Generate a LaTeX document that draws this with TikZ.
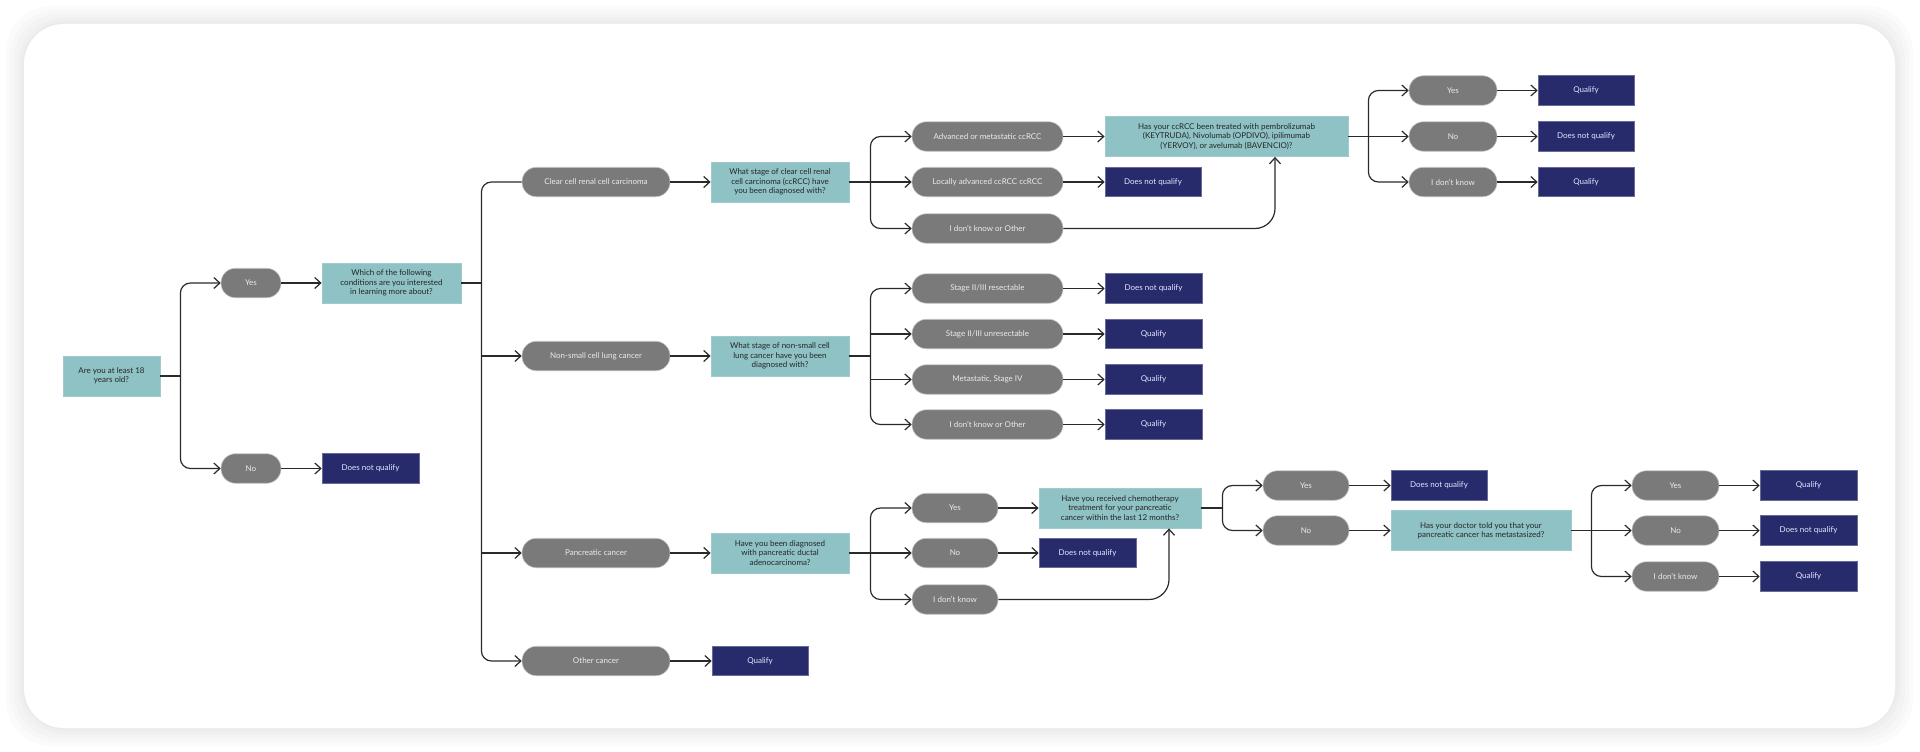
\documentclass[tikz,border=0pt]{standalone}
\usepackage{fontspec}
\setmainfont{Lato}
\usetikzlibrary{positioning,arrows.meta,calc}
\definecolor{qteal}{HTML}{8EC2C5}
\definecolor{pgray}{HTML}{7A7A7A}
\definecolor{rnavy}{HTML}{272A6B}
\definecolor{linec}{HTML}{2A2A2A}
\tikzset{
  boxtxt/.style={inner sep=0pt,font=\fontsize{8}{9.3}\selectfont,align=center},
  ques/.style={boxtxt,fill=qteal,draw=qteal!85!white,line width=0.8pt,minimum height=40pt,text=black!85},
  pill/.style={boxtxt,fill=pgray,draw=black!22,line width=0.6pt,rounded corners=14.5pt,minimum height=29.5pt,text=white!92!black},
  res/.style={boxtxt,fill=rnavy,draw=rnavy!70!white,line width=0.6pt,minimum height=29.5pt,text=white!90!blue},
  wire/.style={draw=linec,line width=1.2pt,rounded corners=10pt},
  wirea/.style={wire,-{Straight Barb[length=6pt,width=11pt]}}
}
\begin{document}
\begin{tikzpicture}[x=1pt,y=-1pt]
\useasboundingbox (0,0) rectangle (1920,752);
\foreach \s in {18,14,10,6,3} \fill[black,opacity=0.014,rounded corners=46pt] (24-\s,24-\s) rectangle (1895+\s,728+\s);
\fill[white,rounded corners=40pt] (24,24) rectangle (1895,728);

\node[ques,minimum width=97pt] (age) at (111.5,376) {Are you at least 18\\years old?};
\node[pill,minimum width=60pt] (yes1) at (251,283) {Yes};
\node[pill,minimum width=60pt] (no1) at (251,468.5) {No};
\node[ques,minimum width=139pt] (which) at (391.5,283) {Which of the following\\conditions are you interested\\in learning more about?};
\node[res,minimum width=97pt] (dnqa) at (370.5,468.5) {Does not qualify};

\node[pill,minimum width=148pt] (ccrcc) at (596,182) {Clear cell renal cell carcinoma};
\node[pill,minimum width=148pt] (nsclc) at (596,356) {Non-small cell lung cancer};
\node[pill,minimum width=148pt] (panc) at (596,553) {Pancreatic cancer};
\node[pill,minimum width=148pt] (other) at (596,661) {Other cancer};
\node[ques,minimum width=138pt] (qcc) at (780,182) {What stage of clear cell renal\\cell carcinoma (ccRCC) have\\you been diagnosed with?};
\node[ques,minimum width=138pt] (qns) at (780,356) {What stage of non-small cell\\lung cancer have you been\\diagnosed with?};
\node[ques,minimum width=138pt] (qpa) at (780,553) {Have you been diagnosed\\with pancreatic ductal\\adenocarcinoma?};
\node[res,minimum width=96pt] (qoth) at (760,661) {Qualify};

\node[pill,minimum width=151pt] (cc1) at (987.5,136.5) {Advanced or metastatic ccRCC};
\node[pill,minimum width=151pt] (cc2) at (987.5,182) {Locally advanced ccRCC ccRCC};
\node[pill,minimum width=151pt] (cc3) at (987.5,228.5) {I don’t know or Other};
\node[ques,minimum width=243pt] (treat) at (1226.5,136.5) {Has your ccRCC been treated with pembrolizumab\\(KEYTRUDA), Nivolumab (OPDIVO), ipilimumab\\(YERVOY), or avelumab (BAVENCIO)?};
\node[res,minimum width=96pt] (cc2r) at (1153,182) {Does not qualify};
\node[pill,minimum width=88pt] (tr1) at (1453,90.5) {Yes};
\node[pill,minimum width=88pt] (tr2) at (1453,136.5) {No};
\node[pill,minimum width=88pt] (tr3) at (1453,182) {I don’t know};
\node[res,minimum width=96pt] (tr1r) at (1586,90.5) {Qualify};
\node[res,minimum width=96pt] (tr2r) at (1586,136.5) {Does not qualify};
\node[res,minimum width=96pt] (tr3r) at (1586,182) {Qualify};

\node[pill,minimum width=151pt] (ns1) at (987.5,288.5) {Stage II/III resectable};
\node[pill,minimum width=151pt] (ns2) at (987.5,334) {Stage II/III unresectable};
\node[pill,minimum width=151pt] (ns3) at (987.5,379.5) {Metastatic, Stage IV};
\node[pill,minimum width=151pt] (ns4) at (987.5,424.5) {I don’t know or Other};
\node[res,minimum width=97pt] (ns1r) at (1153.5,288.5) {Does not qualify};
\node[res,minimum width=97pt] (ns2r) at (1153.5,334) {Qualify};
\node[res,minimum width=97pt] (ns3r) at (1153.5,379.5) {Qualify};
\node[res,minimum width=97pt] (ns4r) at (1153.5,424.5) {Qualify};

\node[pill,minimum width=86pt] (pa1) at (955,508) {Yes};
\node[pill,minimum width=86pt] (pa2) at (955,553) {No};
\node[pill,minimum width=86pt] (pa3) at (955,599.5) {I don’t know};
\node[ques,minimum width=162pt] (chemo) at (1120,508) {Have you received chemotherapy\\treatment for your pancreatic\\cancer within the last 12 months?};
\node[res,minimum width=97pt] (pa2r) at (1087.5,553) {Does not qualify};
\node[pill,minimum width=86pt] (ch1) at (1306,485.5) {Yes};
\node[pill,minimum width=86pt] (ch2) at (1306,530.5) {No};
\node[res,minimum width=96pt] (ch1r) at (1439,485.5) {Does not qualify};
\node[ques,minimum width=180pt] (doctor) at (1481,530.5) {Has your doctor told you that your\\pancreatic cancer has metastasized?};
\node[pill,minimum width=87pt] (dr1) at (1675.5,485.5) {Yes};
\node[pill,minimum width=87pt] (dr2) at (1675.5,530.5) {No};
\node[pill,minimum width=87pt] (dr3) at (1675.5,576.5) {I don’t know};
\node[res,minimum width=97pt] (dr1r) at (1808.5,485.5) {Qualify};
\node[res,minimum width=97pt] (dr2r) at (1808.5,530.5) {Does not qualify};
\node[res,minimum width=97pt] (dr3r) at (1808.5,576.5) {Qualify};

\coordinate[right=20pt of age] (jage);\coordinate[right=20pt of which] (jwhich);
\coordinate[right=21pt of qcc] (jqcc);\coordinate[right=21pt of qns] (jqns);\coordinate[right=21pt of qpa] (jqpa);
\coordinate[right=20pt of treat] (jtreat);\coordinate[right=21pt of chemo] (jchemo);\coordinate[right=20pt of doctor] (jdoctor);

\draw[wire] (age.east)--(jage);\draw[wirea] (jage)|-(yes1);\draw[wirea] (jage)|-(no1);
\draw[wirea] (yes1)--(which);\draw[wirea] (no1)--(dnqa);
\draw[wire] (which.east)--(jwhich);\draw[wire] (jwhich)|-(ccrcc);\draw[wirea] (jwhich)|-(other);
\draw[wirea] (jwhich|-nsclc)--(nsclc);\draw[wirea] (jwhich|-panc)--(panc);
\draw[wirea] (ccrcc)--(qcc);\draw[wirea] (nsclc)--(qns);\draw[wirea] (panc)--(qpa);\draw[wirea] (other)--(qoth);

\draw[wire] (qcc.east)--(jqcc);\draw[wirea] (jqcc)|-(cc1);\draw[wirea] (jqcc)--(cc2);\draw[wirea] (jqcc)|-(cc3);
\draw[wirea] (cc1)--(treat);\draw[wirea] (cc2)--(cc2r);
\draw[wirea,rounded corners=20pt] (cc3.east)-|($(treat.south)+(48.5,0)$);
\draw[wire] (treat.east)--(jtreat);\draw[wirea] (jtreat)|-(tr1);\draw[wirea] (jtreat)--(tr2);\draw[wirea] (jtreat)|-(tr3);
\draw[wirea] (tr1)--(tr1r);\draw[wirea] (tr2)--(tr2r);\draw[wirea] (tr3)--(tr3r);

\draw[wire] (qns.east)--(jqns);\draw[wirea] (jqns)|-(ns1);\draw[wirea] (jqns)|-(ns4);
\draw[wirea] (jqns|-ns2)--(ns2);\draw[wirea] (jqns|-ns3)--(ns3);
\draw[wirea] (ns1)--(ns1r);\draw[wirea] (ns2)--(ns2r);\draw[wirea] (ns3)--(ns3r);\draw[wirea] (ns4)--(ns4r);

\draw[wire] (qpa.east)--(jqpa);\draw[wirea] (jqpa)|-(pa1);\draw[wirea] (jqpa)--(pa2);\draw[wirea] (jqpa)|-(pa3);
\draw[wirea] (pa1)--(chemo);\draw[wirea] (pa2)--(pa2r);
\draw[wirea,rounded corners=20pt] (pa3.east)-|($(chemo.south)+(49,0)$);
\draw[wire] (chemo.east)--(jchemo);\draw[wirea] (jchemo)|-(ch1);\draw[wirea] (jchemo)|-(ch2);
\draw[wirea] (ch1)--(ch1r);\draw[wirea] (ch2)--(doctor);
\draw[wire] (doctor.east)--(jdoctor);\draw[wirea] (jdoctor)|-(dr1);\draw[wirea] (jdoctor)--(dr2);\draw[wirea] (jdoctor)|-(dr3);
\draw[wirea] (dr1)--(dr1r);\draw[wirea] (dr2)--(dr2r);\draw[wirea] (dr3)--(dr3r);
\end{tikzpicture}
\end{document}
